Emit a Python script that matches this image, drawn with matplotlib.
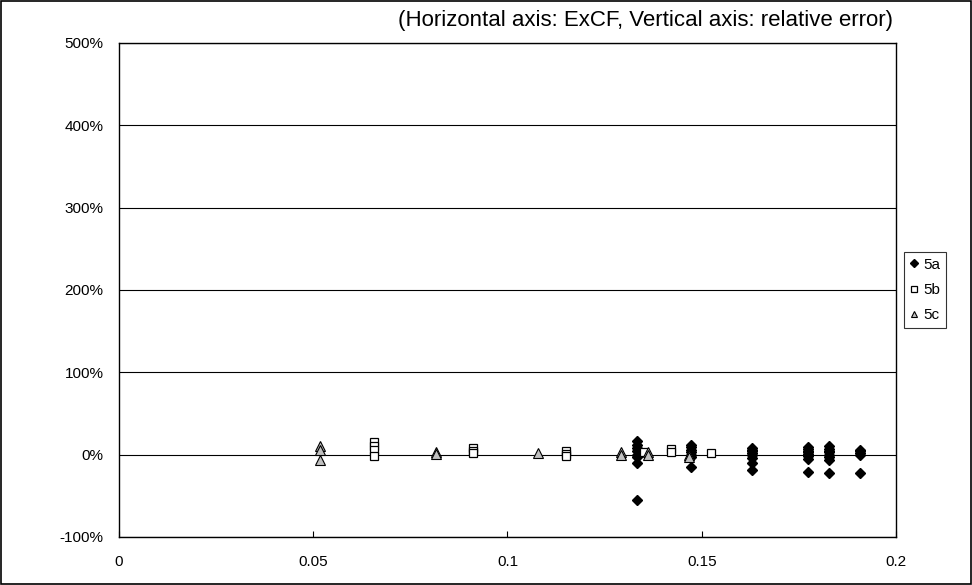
import matplotlib
matplotlib.use("Agg")
import matplotlib.pyplot as plt
from matplotlib.patches import Rectangle
from matplotlib.ticker import FuncFormatter

plt.rcParams['font.family'] = ['Liberation Sans', 'DejaVu Sans']

# Data (ExCF, relative error in %)
x_5a = [0.1333]*8 + [0.1472]*7 + [0.1629]*8 + [0.1773]*8 + [0.1828]*8 + [0.1907]*5
y_5a = [16, 12, 8, 4, 0, -3, -10, -55,
        12, 9, 6, 3, 0, -3, -15,
        8, 6, 4, 2, 0, -4, -10, -19,
        9, 7, 5, 3, 1, -2, -5, -21,
        10, 7, 5, 3, 0, -3, -7, -22,
        6, 4, 2, 0, -22]

x_5b = [0.0656]*4 + [0.0911]*3 + [0.1151]*3 + [0.1351] + [0.1421]*2 + [0.1524]
y_5b = [15, 10, 6, -2,
        8, 5, 2,
        5, 1, -2,
        3,
        7, 3,
        2]

x_5c = [0.0517]*3 + [0.0816]*2 + [0.1079] + [0.1292]*2 + [0.1362]*2 + [0.1467]*2
y_5c = [11, 6, -6,
        3, 1,
        2,
        3, -1,
        3, 0,
        0, -3]

xticks = [0, 0.05, 0.1, 0.15, 0.2]
xtick_labels = ['0', '0.05', '0.1', '0.15', '0.2']
yticks = [-100, 0, 100, 200, 300, 400, 500]

fig = plt.figure(figsize=(9.72, 5.85), dpi=100)
ax = fig.add_axes([0.1224, 0.0821, 0.7994, 0.8444])

for yv in yticks:
    ax.axhline(yv, color='black', lw=0.8, zorder=1)

ax.plot(x_5a, y_5a, linestyle='none', marker='D', markersize=5,
        markerfacecolor='black', markeredgecolor='black', label='5a', zorder=3)
ax.plot(x_5b, y_5b, linestyle='none', marker='s', markersize=5.2,
        markerfacecolor='white', markeredgecolor='black', markeredgewidth=0.9,
        label='5b', zorder=3)
ax.plot(x_5c, y_5c, linestyle='none', marker='^', markersize=6.5,
        markerfacecolor='#c0c0c0', markeredgecolor='black', markeredgewidth=0.8,
        label='5c', zorder=3)

ax.set_xlim(0, 0.2)
ax.set_ylim(-100, 500)
ax.set_xticks(xticks)
ax.set_xticklabels(xtick_labels)
ax.set_yticks(yticks)
ax.yaxis.set_major_formatter(FuncFormatter(lambda v, p: f"{int(round(v))}%"))
ax.tick_params(axis='x', direction='in', length=4, width=0.8, labelsize=11, pad=13)
ax.tick_params(axis='y', length=0, labelsize=11, pad=11)
for s in ax.spines.values():
    s.set_linewidth(1.0)
    s.set_color('black')

leg = ax.legend(loc='center left', bbox_to_anchor=(1.01, 0.5), frameon=True,
                fancybox=False, edgecolor='black', fontsize=11, handlelength=0.6,
                handletextpad=0.35, borderpad=0.35, labelspacing=0.75,
                borderaxespad=0.0, markerscale=0.75)
leg.get_frame().set_linewidth(0.8)

fig.text(0.919, 0.965, '(Horizontal axis: ExCF, Vertical axis: relative error)',
         ha='right', va='center', fontsize=16)

fig.patches.append(Rectangle((0.001, 0.001), 0.998, 0.997, transform=fig.transFigure,
                             fill=False, edgecolor='black', lw=1.2))

fig.savefig('out.png', dpi=100)
